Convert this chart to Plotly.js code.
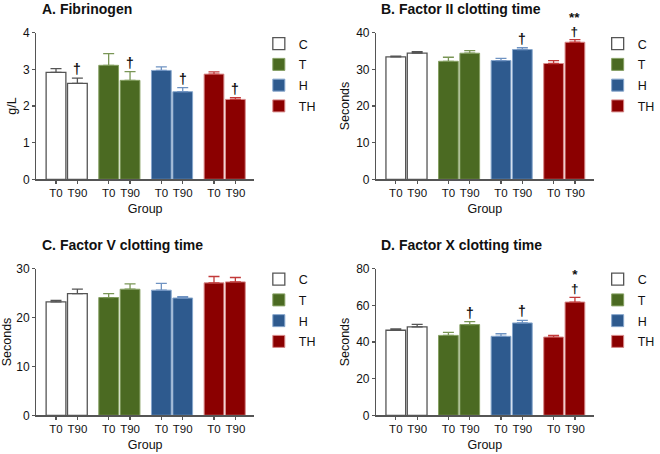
<!DOCTYPE html>
<html>
<head>
<meta charset="utf-8">
<script src="https://cdn.plot.ly/plotly-3.0.1.min.js"></script>
<style>html,body{margin:0;padding:0;background:#fff;}#chart{width:660px;height:454px;}</style>
</head>
<body>
<div id="chart"></div>
<script>
// ---- data (order: C T0, C T90, T T0, T T90, H T0, H T90, TH T0, TH T90)
const groups = ['C', 'T', 'H', 'TH'];
const times = ['T0', 'T90'];
const panelTitles = ['A. Fibrinogen', 'B. Factor II clotting time', 'C. Factor V clotting time', 'D. Factor X clotting time'];
const yTitles = ['g/L', 'Seconds', 'Seconds', 'Seconds'];
const yMax = [4, 40, 30, 80];
const yStep = [1, 10, 10, 20];

const fibMean = [2.92, 2.62, 3.11, 2.70, 2.97, 2.39, 2.87, 2.18];
const fibErr  = [0.10, 0.14, 0.32, 0.24, 0.10, 0.11, 0.06, 0.05];
const fibDagger = [0, 1, 0, 1, 0, 1, 0, 1];
const fibStars  = ['', '', '', '', '', '', '', ''];

const f2Mean = [33.4, 34.4, 32.2, 34.4, 32.4, 35.4, 31.6, 37.4];
const f2Err  = [0.2, 0.4, 1.1, 0.7, 0.6, 0.5, 0.8, 0.7];
const f2Dagger = [0, 0, 0, 0, 0, 1, 0, 1];
const f2Stars  = ['', '', '', '', '', '', '', '**'];

const f5Mean = [23.2, 24.9, 24.1, 25.8, 25.6, 24.0, 27.1, 27.3];
const f5Err  = [0.3, 0.9, 0.8, 1.1, 1.4, 0.3, 1.3, 0.9];
const f5Dagger = [0, 0, 0, 0, 0, 0, 0, 0];
const f5Stars  = ['', '', '', '', '', '', '', ''];

const f10Mean = [46.4, 48.2, 43.6, 49.5, 43.1, 50.4, 42.7, 61.8];
const f10Err  = [0.7, 1.4, 1.7, 1.6, 1.4, 1.4, 0.9, 2.6];
const f10Dagger = [0, 0, 0, 1, 0, 1, 0, 1];
const f10Stars  = ['', '', '', '', '', '', '', '*'];

// ---- styles
const fillColors = ['#ffffff', '#4b6a22', '#2e5a8e', '#8b0000'];
const edgeColors = ['#555555', '#86a063', '#86a6cc', '#d88a8a'];
const errColors  = ['#555555', '#7a9656', '#6f93c2', '#c23a3a'];
const FONT = 'Liberation Sans, Arial, sans-serif';
const TXT = '#111111';
const AX = '#555555';

const panels = [
  {mean: fibMean, err: fibErr, dag: fibDagger, stars: fibStars},
  {mean: f2Mean, err: f2Err, dag: f2Dagger, stars: f2Stars},
  {mean: f5Mean, err: f5Err, dag: f5Dagger, stars: f5Stars},
  {mean: f10Mean, err: f10Err, dag: f10Dagger, stars: f10Stars}
];

const W = 660, H = 454;
const xDom = [[36.7, 257.3], [380.7, 601], [36.7, 257.3], [380.7, 601]];
const yDom = [[32.7, 179.3], [32.7, 179.3], [268.7, 415.3], [268.7, 415.3]];
const titlePos = [[40, 9], [384, 9], [40, 244.5], [384, 244.5]];
const legendPos = [[262, 29], [605, 29], [262, 264.5], [605, 264.5]];
const OFF = 0.203, BW = 0.375;

const xpos = [];
groups.forEach((g, gi) => times.forEach((t, ti) => xpos.push(gi + (ti === 0 ? -OFF : OFF))));
const xtext = [];
groups.forEach(() => times.forEach(t => xtext.push(t)));

const traces = [];
const annotations = [];
const layout = {
  width: W, height: H,
  margin: {l: 0, r: 0, t: 0, b: 0},
  paper_bgcolor: '#ffffff', plot_bgcolor: '#ffffff',
  barmode: 'overlay',
  showlegend: true,
  font: {family: FONT, color: TXT, size: 12},
  annotations: annotations
};

panels.forEach((p, pi) => {
  const sfx = pi === 0 ? '' : String(pi + 1);
  const xa = 'x' + sfx, ya = 'y' + sfx;
  const legName = 'legend' + sfx;
  groups.forEach((g, gi) => {
    const idx = [2 * gi, 2 * gi + 1];
    traces.push({
      type: 'bar', name: g,
      x: idx.map(i => xpos[i]),
      y: idx.map(i => p.mean[i]),
      width: BW,
      xaxis: xa, yaxis: ya,
      legend: legName,
      legendgroup: 'p' + pi + g,
      marker: {color: fillColors[gi], line: {color: edgeColors[gi], width: gi === 0 ? 1.3 : 1}},
      error_y: {type: 'data', symmetric: false, array: idx.map(i => p.err[i]), arrayminus: idx.map(() => 0),
                color: errColors[gi], thickness: 1.3, width: 5.5},
      hoverinfo: 'skip'
    });
  });
  // significance marks
  xpos.forEach((x, i) => {
    if (p.stars[i]) {
      annotations.push({xref: xa, yref: ya, x: x, y: p.mean[i] + p.err[i],
        text: '<span style="font-size:13.5px"><b>' + p.stars[i] + '</b></span><br><span style="font-size:13.5px"><b>†</b></span>',
        showarrow: false, yanchor: 'bottom', yshift: -1, font: {family: FONT, size: 11, color: TXT}});
    } else if (p.dag[i]) {
      annotations.push({xref: xa, yref: ya, x: x, y: p.mean[i] + p.err[i], text: '<b>†</b>', showarrow: false,
        yanchor: 'bottom', yshift: -1, font: {family: FONT, size: 14, color: TXT}});
    }
  });
  // panel title
  annotations.push({xref: 'paper', yref: 'paper', x: titlePos[pi][0] / W, y: 1 - titlePos[pi][1] / H,
    xanchor: 'left', yanchor: 'middle', showarrow: false, text: '<b>' + panelTitles[pi] + '</b>',
    font: {family: FONT, size: 14, color: TXT}});

  layout['xaxis' + sfx] = {
    domain: [xDom[pi][0] / W, xDom[pi][1] / W], anchor: ya,
    range: [-0.578, 3.56], tickmode: 'array', tickvals: xpos, ticktext: xtext,
    showline: true, linecolor: AX, linewidth: 1.2, ticks: 'outside', ticklen: 3, tickcolor: AX, tickwidth: 1.2,
    showgrid: false, zeroline: false, fixedrange: true,
    tickfont: {family: FONT, size: 11.5, color: TXT},
    title: {text: 'Group', font: {family: FONT, size: 12.5, color: TXT}, standoff: 6}
  };
  layout['yaxis' + sfx] = {
    domain: [1 - yDom[pi][1] / H, 1 - yDom[pi][0] / H], anchor: xa,
    range: [0, yMax[pi]], dtick: yStep[pi], tick0: 0,
    showline: true, linecolor: AX, linewidth: 1.2, ticks: 'outside', ticklen: 3, tickcolor: AX, tickwidth: 1.2,
    showgrid: false, zeroline: false, fixedrange: true,
    tickfont: {family: FONT, size: 12, color: TXT},
    title: {text: yTitles[pi], font: {family: FONT, size: 12.5, color: TXT}, standoff: 3}
  };
  layout[legName] = {
    x: legendPos[pi][0] / W, y: 1 - legendPos[pi][1] / H, xanchor: 'left', yanchor: 'top',
    bgcolor: 'rgba(0,0,0,0)', borderwidth: 0, tracegroupgap: 1.5, traceorder: 'grouped',
    font: {family: FONT, size: 12.5, color: TXT}, itemclick: false, itemdoubleclick: false
  };
});

Plotly.newPlot('chart', traces, layout, {displayModeBar: false, staticPlot: true});
</script>
</body>
</html>
